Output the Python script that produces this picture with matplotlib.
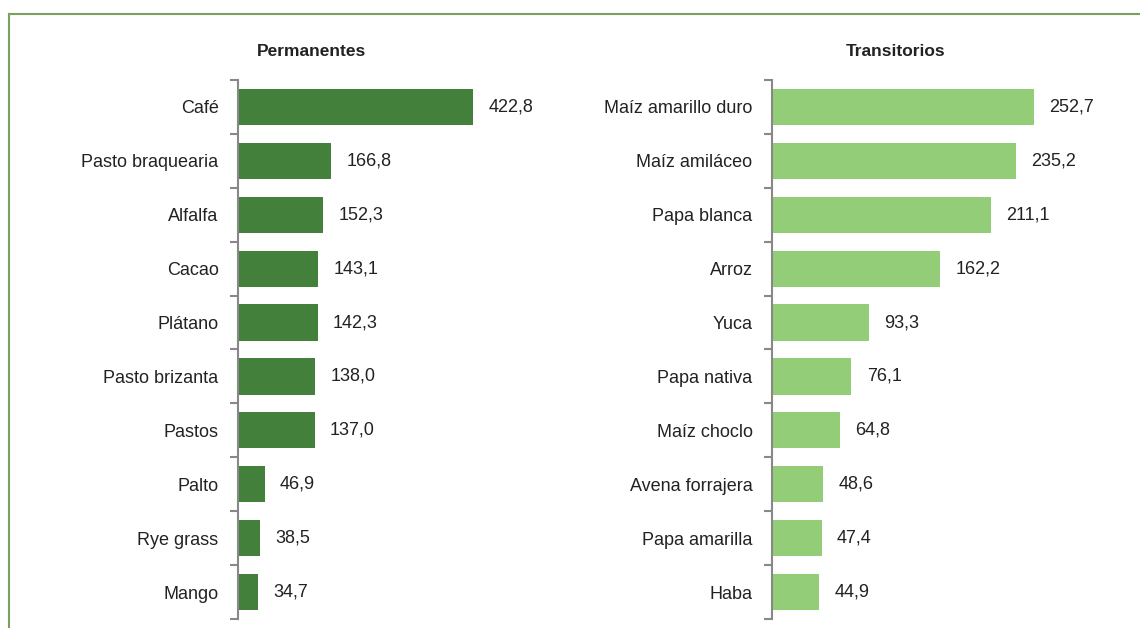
import matplotlib
matplotlib.use("Agg")
import matplotlib.pyplot as plt
from matplotlib.lines import Line2D
from matplotlib import font_manager

perm_labels = ["Café", "Pasto braquearia", "Alfalfa", "Cacao", "Plátano",
               "Pasto brizanta", "Pastos", "Palto", "Rye grass", "Mango"]
perm_values = [422.8, 166.8, 152.3, 143.1, 142.3, 138.0, 137.0, 46.9, 38.5, 34.7]

trans_labels = ["Maíz amarillo duro", "Maíz amiláceo", "Papa blanca", "Arroz", "Yuca",
                "Papa nativa", "Maíz choclo", "Avena forrajera", "Papa amarilla", "Haba"]
trans_values = [252.7, 235.2, 211.1, 162.2, 93.3, 76.1, 64.8, 48.6, 47.4, 44.9]

names = {f.name for f in font_manager.fontManager.ttflist}
fam = ["Liberation Sans Narrow", "Liberation Sans", "DejaVu Sans"]
fam = [f for f in fam if f in names] or ["DejaVu Sans"]
plt.rcParams["font.family"] = fam

W, H = 1140, 628
fig = plt.figure(figsize=(W / 100, H / 100), dpi=100)

def px_axes(x0, y0, x1, y1):
    return fig.add_axes([x0 / W, 1 - y1 / H, (x1 - x0) / W, (y1 - y0) / H])

def draw(ax, labels, values, color, xmax, title, tx):
    n = len(labels)
    y = list(range(n))
    ax.barh(y, values, left=0, height=0.67, color=color, edgecolor="none")
    ax.set_ylim(n - 0.5, -0.5)
    ax.set_xlim(-0.6 * xmax / 300, xmax)
    ax.set_yticks(y)
    ax.set_yticklabels(labels, fontsize=13, color="#222222")
    ax.set_yticks([i - 0.5 for i in range(n + 1)], minor=True)
    ax.tick_params(axis="y", which="major", length=0, pad=14)
    ax.tick_params(axis="y", which="minor", length=6, width=1.5, color="#888888")
    ax.set_xticks([])
    for s in ["top", "right", "bottom"]:
        ax.spines[s].set_visible(False)
    ax.spines["left"].set_color("#888888")
    ax.spines["left"].set_linewidth(1.5)
    for yi, v in zip(y, values):
        ax.annotate(f"{v:.1f}".replace(".", ","), (v, yi), xytext=(11, 0),
                    textcoords="offset points", va="center", ha="left",
                    fontsize=13, color="#222222")
    fig.text(tx / W, 1 - 51 / H, title, ha="center", va="center",
             fontsize=12.5, fontweight="bold", color="#222222")

ax1 = px_axes(238, 80, 516, 619)
draw(ax1, perm_labels, perm_values, "#43803b", 500, "Permanentes", 312)
ax2 = px_axes(772, 80, 1083, 619)
draw(ax2, trans_labels, trans_values, "#93cd78", 300, "Transitorios", 896)

border = "#7aa05e"
fig.add_artist(Line2D([9 / W, 1], [1 - 14 / H, 1 - 14 / H], color=border, lw=1.5,
                      transform=fig.transFigure))
fig.add_artist(Line2D([9 / W, 9 / W], [0, 1 - 14 / H], color=border, lw=1.5,
                      transform=fig.transFigure))

fig.savefig("out.png", dpi=100)
